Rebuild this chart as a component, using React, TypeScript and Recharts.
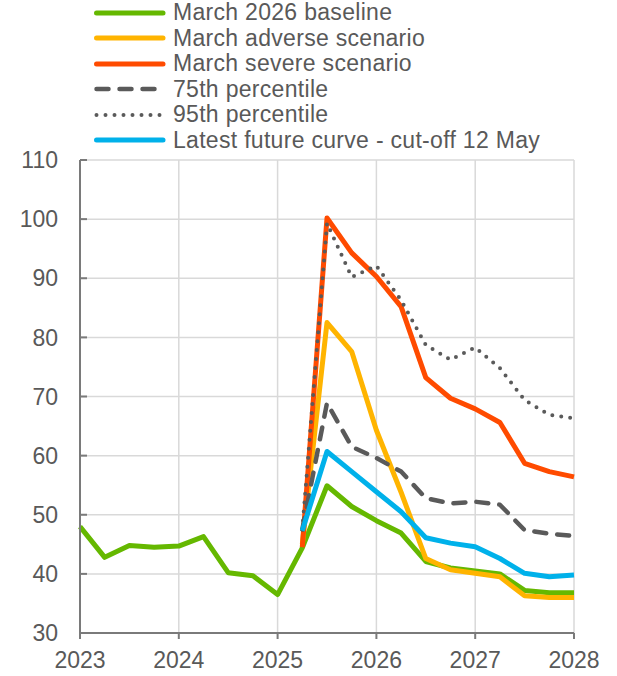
import { CartesianGrid, Legend, Line, LineChart, XAxis, YAxis } from "recharts";

const quarters = [
  2023, 2023.25, 2023.5, 2023.75, 2024, 2024.25, 2024.5, 2024.75, 2025, 2025.25,
  2025.5, 2025.75, 2026, 2026.25, 2026.5, 2026.75, 2027, 2027.25, 2027.5, 2027.75, 2028,
];

const baseline = [
  48, 42.8, 44.8, 44.5, 44.7, 46.3, 40.2, 39.7, 36.5, 44.4,
  54.9, 51.4, 49.0, 46.9, 42.1, 41.0, 40.5, 40.0, 37.2, 36.8, 36.8,
];
const adverse = [
  null, null, null, null, null, null, null, null, null, 45.0,
  82.5, 77.6, 64.3, 53.8, 42.6, 40.7, 40.1, 39.5, 36.3, 36.0, 36.0,
];
const severe = [
  null, null, null, null, null, null, null, null, null, 44.5,
  100.2, 94.3, 90.3, 85.2, 73.2, 69.7, 67.9, 65.6, 58.7, 57.3, 56.4,
];
const p75 = [
  null, null, null, null, null, null, null, null, null, 47.5,
  68.9, 61.5, 59.6, 57.3, 52.8, 51.9, 52.2, 51.7, 47.4, 46.8, 46.4,
];
const p95 = [
  null, null, null, null, null, null, null, null, null, 47.5,
  99.3, 90.2, 92.1, 86.3, 78.7, 76.2, 78.3, 74.8, 69.4, 66.9, 66.3,
];
const futures = [
  null, null, null, null, null, null, null, null, null, 47.3,
  60.7, 57.3, 53.9, 50.5, 46.1, 45.2, 44.6, 42.6, 40.1, 39.5, 39.8,
];

const xTicks = [2023, 2024, 2025, 2026, 2027, 2028];
const yTicks = [30, 40, 50, 60, 70, 80, 90, 100, 110];

const data = quarters.map((q, i) => ({
  q,
  baseline: baseline[i],
  adverse: adverse[i],
  severe: severe[i],
  p75: p75[i],
  p95: p95[i],
  futures: futures[i],
}));

const FONT = "'Liberation Sans', Arial, sans-serif";
const TEXT = "#595959";
const AXIS = "#7a7a7a";

const series = [
  { key: "baseline", name: "March 2026 baseline", color: "#65b800", dash: undefined, cap: "butt", width: 5 },
  { key: "adverse", name: "March adverse scenario", color: "#ffb400", dash: undefined, cap: "butt", width: 5 },
  { key: "severe", name: "March severe scenario", color: "#ff4b00", dash: undefined, cap: "butt", width: 5 },
  { key: "p75", name: "75th percentile", color: "#5a5a5a", dash: "12 11", cap: "round", width: 4.5 },
  { key: "p95", name: "95th percentile", color: "#5a5a5a", dash: "0 9", cap: "round", width: 4 },
  { key: "futures", name: "Latest future curve - cut-off 12 May", color: "#00b1ea", dash: undefined, cap: "butt", width: 5 },
] as const;

function LegendBox() {
  return (
    <div style={{ fontFamily: FONT, fontSize: 23, letterSpacing: 0.3, color: TEXT }}>
      {series.map((s) => (
        <div key={s.key} style={{ display: "flex", alignItems: "center", height: 25.5 }}>
          <svg width={81} height={10} style={{ display: "block", flex: "none" }}>
            <line
              x1={4.5}
              x2={71}
              y1={5}
              y2={5}
              stroke={s.color}
              strokeWidth={s.width}
              strokeDasharray={s.dash}
              strokeLinecap="round"
            />
          </svg>
          <span style={{ lineHeight: "25px", whiteSpace: "nowrap" }}>{s.name}</span>
        </div>
      ))}
    </div>
  );
}

export default function App() {
  return (
    <div style={{ position: "absolute", left: 0, top: 0 }}>
      <LineChart
        width={617}
        height={676}
        data={data}
        margin={{ top: 160, right: 43, left: 0, bottom: 0 }}
      >
        <CartesianGrid stroke="#d9d9d9" strokeWidth={1.5} />
        <XAxis
          dataKey="q"
          type="number"
          domain={[2023, 2028]}
          ticks={xTicks}
          height={43}
          stroke={AXIS}
          strokeWidth={2}
          tickSize={6}
          tickMargin={13}
          tick={{ fill: TEXT, fontSize: 23, fontFamily: FONT }}
        />
        {/* ticks point inward, labels pushed back out */}
        <YAxis
          domain={[30, 110]}
          ticks={yTicks}
          width={80}
          stroke={AXIS}
          strokeWidth={2}
          tickSize={-7}
          tickMargin={29}
          tick={{ fill: TEXT, fontSize: 23, fontFamily: FONT }}
        />
        <Legend
          layout="vertical"
          verticalAlign="middle"
          align="center"
          content={() => <LegendBox />}
          wrapperStyle={{ top: 0, left: 92, width: 520 }}
        />
        {series.map((s) => (
          <Line
            key={s.key}
            dataKey={s.key}
            name={s.name}
            type="linear"
            stroke={s.color}
            strokeWidth={s.width}
            strokeDasharray={s.dash}
            strokeLinecap={s.cap}
            strokeLinejoin="round"
            dot={false}
            activeDot={false}
            isAnimationActive={false}
          />
        ))}
      </LineChart>
    </div>
  );
}
